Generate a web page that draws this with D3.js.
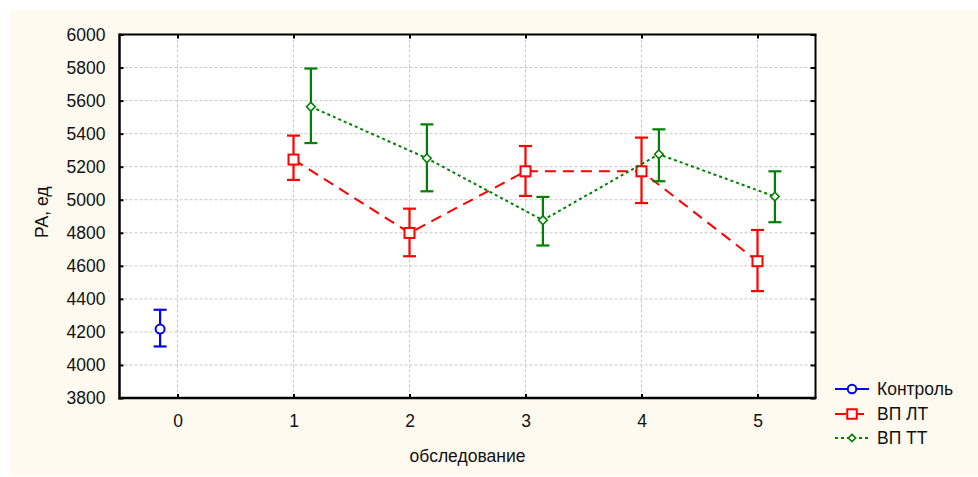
<!DOCTYPE html>
<html><head><meta charset="utf-8">
<script src="https://cdn.jsdelivr.net/npm/d3@7"></script>
<style>body{margin:0;background:#fff;} text{font-family:Arial,"Liberation Sans",sans-serif;}</style>
</head><body>
<svg id="c" width="978" height="477"></svg>
<script>
// ---- data ----
const xCategories = [0, 1, 2, 3, 4, 5];
const yTicks = [3800, 4000, 4200, 4400, 4600, 4800, 5000, 5200, 5400, 5600, 5800, 6000];
const seriesNames = ["Контроль", "ВП ЛТ", "ВП ТТ"];
const controlX = [0];
const controlMean = [4217];
const controlLow = [4112];
const controlHigh = [4334];
const ltX = [1, 2, 3, 4, 5];
const ltMean = [5243, 4799, 5172, 5172, 4628];
const ltLow = [5120, 4658, 5023, 4980, 4447];
const ltHigh = [5388, 4946, 5325, 5376, 4817];
const ttX = [1, 2, 3, 4, 5];
const ttMean = [5563, 5251, 4876, 5275, 5019];
const ttLow = [5343, 5051, 4723, 5112, 4864];
const ttHigh = [5794, 5456, 5017, 5426, 5172];
const xTitle = "обследование";
const yTitle = "РА, ед";

const FS = 17.5;
const svg = d3.select("#c");
svg.append("rect").attr("x", 10).attr("y", 10).attr("width", 968).attr("height", 466).attr("fill", "#fffaf0");

const L = 119.5, R = 815.5, T = 34.5, B = 398;
const x = d3.scaleLinear().domain([-0.5, 5.5]).range([L, R]);
const y = d3.scaleLinear().domain([3800, 6000]).range([B, T]);

svg.append("rect").attr("x", L).attr("y", T).attr("width", R - L).attr("height", B - T).attr("fill", "#fff");

// grid
const g = svg.append("g");
g.selectAll(".gy").data(yTicks.filter(d => d > 3800 && d < 6000)).join("line")
  .attr("x1", L).attr("x2", R).attr("y1", d => y(d)).attr("y2", d => y(d))
  .attr("stroke", "#c8c8c8").attr("stroke-width", 1).attr("stroke-dasharray", "3,2");
g.selectAll(".gx").data(xCategories).join("line")
  .attr("y1", T).attr("y2", B).attr("x1", d => x(d)).attr("x2", d => x(d))
  .attr("stroke", "#c8c8c8").attr("stroke-width", 1).attr("stroke-dasharray", "3,2");

// axes
const axL = svg.append("g").attr("transform", `translate(${L},0)`)
  .call(d3.axisLeft(y).tickValues(yTicks).tickSize(-4).tickPadding(14).tickFormat(d3.format("d")));
const axB = svg.append("g").attr("transform", `translate(0,${B})`)
  .call(d3.axisBottom(x).tickValues(xCategories).tickSize(-4).tickPadding(17).tickFormat(d3.format("d")));
const axT = svg.append("g").attr("transform", `translate(0,${T})`)
  .call(d3.axisTop(x).tickValues(xCategories).tickSize(-4).tickFormat(""));
const axR = svg.append("g").attr("transform", `translate(${R},0)`)
  .call(d3.axisRight(y).tickValues(yTicks).tickSize(-5).tickFormat(""));
[axL, axB, axT, axR].forEach(a => {
  a.select(".domain").remove();
  a.selectAll(".tick line").attr("stroke", "#000").attr("stroke-width", 2);
  a.selectAll("text").attr("font-size", FS).attr("fill", "#111").attr("font-family", "Arial, 'Liberation Sans', sans-serif");
});
// frame
svg.append("line").attr("x1", L).attr("x2", L).attr("y1", T - 1).attr("y2", B + 1.5).attr("stroke", "#000").attr("stroke-width", 2.5);
svg.append("line").attr("x1", L - 1).attr("x2", R + 1).attr("y1", B).attr("y2", B).attr("stroke", "#000").attr("stroke-width", 2.5);
svg.append("line").attr("x1", L).attr("x2", R + 1).attr("y1", T).attr("y2", T).attr("stroke", "#000").attr("stroke-width", 2);
svg.append("line").attr("x1", R).attr("x2", R).attr("y1", T).attr("y2", B).attr("stroke", "#000").attr("stroke-width", 2);

// titles
svg.append("text").attr("x", (L + R) / 2).attr("y", 462).attr("text-anchor", "middle")
  .attr("font-size", FS).attr("fill", "#111").text(xTitle);
svg.append("text").attr("transform", `translate(48,${(T + B) / 2 - 4}) rotate(-90)`).attr("text-anchor", "middle")
  .attr("font-size", FS).attr("fill", "#111").text(yTitle);

// series
const series = [
  {name: seriesNames[0], xs: controlX, mean: controlMean, lo: controlLow, hi: controlHigh, off: -0.15, color: "#0000ff", dash: null, marker: "circle"},
  {name: seriesNames[1], xs: ltX, mean: ltMean, lo: ltLow, hi: ltHigh, off: 0, color: "#ff0000", dash: "11,7", marker: "square"},
  {name: seriesNames[2], xs: ttX, mean: ttMean, lo: ttLow, hi: ttHigh, off: 0.15, color: "#008000", dash: "3,3", marker: "diamond"}
];

function drawMarker(sel, type, color, cx, cy, s) {
  if (type === "circle") {
    sel.append("circle").attr("cx", cx).attr("cy", cy).attr("r", 4.5 * s).attr("fill", "#fff").attr("stroke", color).attr("stroke-width", 2);
  } else if (type === "square") {
    const h = 5 * s;
    sel.append("rect").attr("x", cx - h).attr("y", cy - h).attr("width", 2 * h).attr("height", 2 * h).attr("fill", "#fff").attr("stroke", color).attr("stroke-width", 2);
  } else {
    const h = 4.3 * s;
    sel.append("path").attr("d", `M${cx},${cy - h}L${cx + h},${cy}L${cx},${cy + h}L${cx - h},${cy}Z`).attr("fill", "#fff").attr("stroke", color).attr("stroke-width", 1.6);
  }
}

series.forEach(s => {
  const pts = s.xs.map((v, i) => ({x: v + s.off, m: s.mean[i], lo: s.lo[i], hi: s.hi[i]}));
  const gs = svg.append("g");
  if (pts.length > 1) {
    gs.append("path").datum(pts).attr("fill", "none").attr("stroke", s.color).attr("stroke-width", 2)
      .attr("stroke-dasharray", s.dash)
      .attr("d", d3.line().x(d => x(d.x)).y(d => y(d.m)));
  }
  pts.forEach(p => {
    const cx = x(p.x);
    gs.append("line").attr("x1", cx).attr("x2", cx).attr("y1", y(p.lo)).attr("y2", y(p.hi)).attr("stroke", s.color).attr("stroke-width", 2.2);
    [p.lo, p.hi].forEach(v => gs.append("line").attr("x1", cx - 6.5).attr("x2", cx + 6.5).attr("y1", y(v)).attr("y2", y(v)).attr("stroke", s.color).attr("stroke-width", 2.2));
  });
  pts.forEach(p => drawMarker(gs, s.marker, s.color, x(p.x), y(p.m), 1));
});

// legend
const legY = [389, 414, 438];
series.forEach((s, i) => {
  const lg = svg.append("g");
  lg.append("line").attr("x1", 835).attr("x2", 869).attr("y1", legY[i]).attr("y2", legY[i])
    .attr("stroke", s.color).attr("stroke-width", 2).attr("stroke-dasharray", s.dash);
  drawMarker(lg, s.marker, s.color, 852, legY[i], s.marker === "diamond" ? 0.85 : 0.95);
  lg.append("text").attr("x", 877).attr("y", legY[i]).attr("dy", "0.36em").attr("font-size", FS).attr("fill", "#111").text(s.name);
});
</script>
</body></html>
